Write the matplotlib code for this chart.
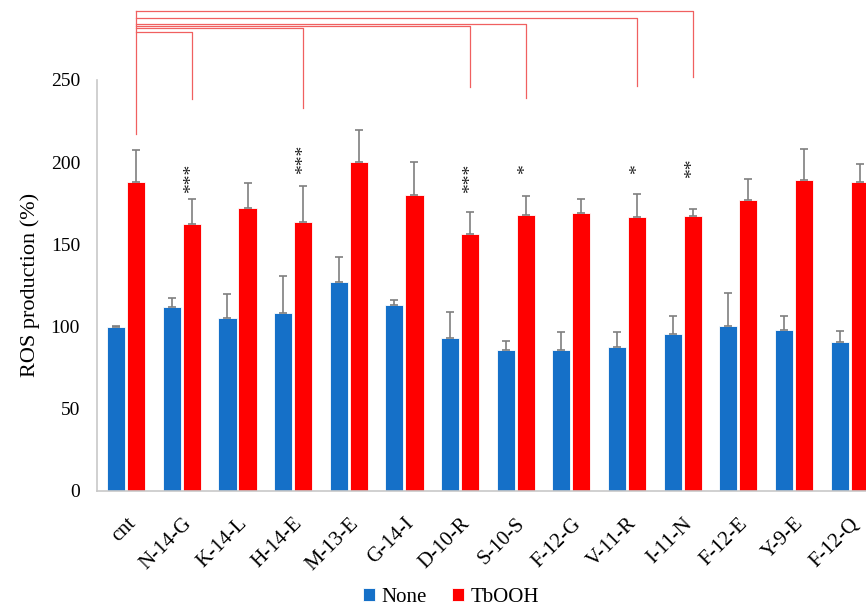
import matplotlib
matplotlib.use("Agg")
import matplotlib.pyplot as plt
import numpy as np

plt.rcParams['font.family'] = ['Liberation Serif', 'DejaVu Serif']

categories = ["cnt", "N-14-G", "K-14-L", "H-14-E", "M-13-E", "G-14-I", "D-10-R",
              "S-10-S", "F-12-G", "V-11-R", "I-11-N", "F-12-E", "Y-9-E", "F-12-Q"]
none_vals = [99.5, 112.0, 105.3, 108.4, 126.8, 113.2, 93.1,
             85.6, 85.6, 87.5, 95.4, 100.5, 98.0, 90.7]
none_err = [0.6, 5.5, 14.4, 22.0, 15.5, 2.9, 15.5,
            5.3, 11.2, 9.3, 11.1, 20.0, 8.5, 6.3]
tbooh_vals = [187.7, 162.5, 172.1, 163.6, 200.3, 179.8, 156.5,
              168.0, 169.0, 166.8, 167.4, 176.8, 189.1, 187.7]
tbooh_err = [19.5, 15.3, 15.2, 21.7, 19.0, 20.3, 13.3,
             11.6, 8.4, 13.6, 4.1, 13.1, 18.9, 11.3]

# significance marks: (category index, label, y position)
stars = [(1, "***", 190), (3, "***", 201.6), (6, "***", 190.2),
         (7, "*", 196), (9, "*", 196), (10, "**", 196.3)]

# comparison brackets against cnt: (target index, top level, drop end)
brackets = [(10, 292.0, 251.8), (9, 287.7, 246.3), (7, 284.3, 238.9),
            (6, 282.9, 245.6), (3, 281.5, 232.8), (1, 279.4, 238.3)]
bracket_base = 217.1

blue = "#1570C8"
red = "#FF0000"

fig = plt.figure(figsize=(8.66, 6.09), dpi=100)
ax = fig.add_axes([96.7 / 866, 118.3 / 609, 782.5 / 866, 410.7 / 609])

x = np.arange(len(categories))
w = 0.325
off = 0.18
ax.bar(x - off, none_vals, w, color=blue, edgecolor="white", linewidth=0.6,
       label="None", zorder=2)
ax.bar(x + off, tbooh_vals, w, color=red, edgecolor="white", linewidth=0.6,
       label="TbOOH", zorder=2)
ekw = dict(fmt="none", ecolor="#7f7f7f", elinewidth=1.2, capsize=3.0,
           capthick=1.2, zorder=3)
ax.errorbar(x - off, none_vals, yerr=[np.zeros(len(x)), none_err], **ekw)
ax.errorbar(x + off, tbooh_vals, yerr=[np.zeros(len(x)), tbooh_err], **ekw)

for i, s, yv in stars:
    ax.text(i + off, yv, s, rotation=90, ha="center", va="center",
            fontsize=14, color="#222222")

bcol = "#F06060"
top_all = max(b[1] for b in brackets)
ax.plot([off, off], [bracket_base, top_all], color=bcol, lw=0.9,
        clip_on=False, zorder=1)
for i, ytop, yend in brackets:
    ax.plot([off, i + off, i + off], [ytop, ytop, yend], color=bcol,
            lw=0.9, clip_on=False, zorder=1)

ax.set_xlim(-0.53, len(categories) - 1 + 0.53)
ax.set_ylim(0, 250)
ax.set_yticks(np.arange(0, 251, 50))
ax.set_xticks(x)
ax.set_xticklabels(categories, rotation=45, ha="right", va="top",
                   rotation_mode="anchor", fontsize=15)
ax.tick_params(axis="both", length=0)
ax.tick_params(axis="y", labelsize=14, pad=12)
ax.tick_params(axis="x", pad=17)
ax.set_ylabel("ROS production (%)", fontsize=16, labelpad=8)

for side in ["top", "right"]:
    ax.spines[side].set_visible(False)
for side in ["left", "bottom"]:
    ax.spines[side].set_color("#c8c8c8")
    ax.spines[side].set_linewidth(1.2)

fig.legend(loc="center", bbox_to_anchor=(451 / 866, 1 - 597 / 609), ncol=2,
           frameon=False, fontsize=15, handlelength=0.6, handleheight=0.6,
           handletextpad=0.3, columnspacing=1.2)

fig.savefig("out.png", dpi=100)
